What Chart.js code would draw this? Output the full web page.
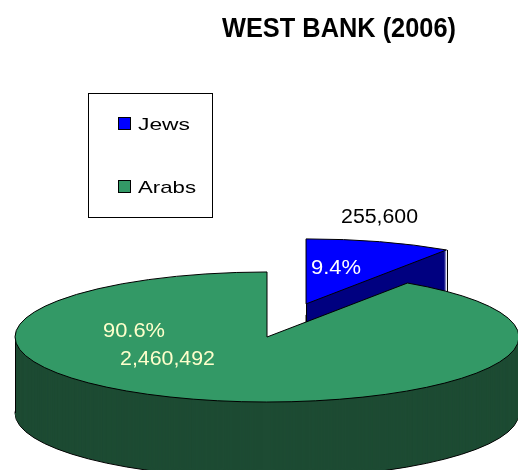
<!DOCTYPE html>
<html><head><meta charset="utf-8">
<style>html,body{margin:0;padding:0;background:#fff}canvas{display:block}</style>
<script src="https://cdn.jsdelivr.net/npm/chart.js@4.4.0/dist/chart.umd.min.js"></script>
</head><body>
<canvas id="c" width="518" height="470"></canvas>
<script>
const chartTitle = 'WEST BANK (2006)';
const categories = ['Jews', 'Arabs'];
const populations = [255600, 2460492];
const topColors = ['#0000FF', '#339966'];
const sideColors = ['#000080', '#1D4B33'];
const labelColors = ['#FFFFFF', '#FFFFCC'];

const TILT = 0.258, DEPTH = 76, EXPLODE = [134, 0];

function fitText(ctx, text, x, y, font, width, color) {
  ctx.save();
  ctx.font = font;
  ctx.fillStyle = color;
  ctx.textBaseline = 'alphabetic';
  ctx.textAlign = 'left';
  const w = ctx.measureText(text).width;
  ctx.translate(x, y);
  ctx.scale(width / w, 1);
  ctx.fillText(text, 0, 0);
  ctx.restore();
}
function explodeVec(el, i) {
  const half = (el.startAngle + el.endAngle) / 2;
  return [Math.cos(half) * EXPLODE[i], Math.sin(half) * EXPLODE[i]];
}
function toScreen(el, i, px, py, dy) {
  const [ox, oy] = explodeVec(el, i);
  return [el.x + ox + px, el.y + dy + (oy + py) * TILT];
}
function slicePath(ctx, el, i, dy) {
  const [ox, oy] = explodeVec(el, i);
  ctx.save();
  ctx.translate(el.x, el.y + dy);
  ctx.scale(1, TILT);
  ctx.translate(ox, oy);
  ctx.beginPath();
  ctx.moveTo(0, 0);
  ctx.arc(0, 0, el.outerRadius, el.startAngle, el.endAngle);
  ctx.closePath();
  ctx.restore();
}

const pie3d = {
  id: 'pie3d',
  beforeDraw(chart) {
    const ctx = chart.ctx;
    ctx.save();
    ctx.fillStyle = '#fff';
    ctx.fillRect(0, 0, chart.width, chart.height);
    ctx.restore();
  },
  beforeDatasetsDraw(chart) {
    const ctx = chart.ctx;
    const meta = chart.getDatasetMeta(0);
    ctx.save();
    ctx.lineWidth = 1;
    ctx.strokeStyle = '#000';
    meta.data.forEach((el, i) => {
      // side (extrusion)
      for (let d = DEPTH; d >= 1; d--) {
        slicePath(ctx, el, i, d);
        ctx.fillStyle = sideColors[i];
        ctx.fill();
        if (d === DEPTH) ctx.stroke();
      }
      // silhouette vertical edges
      const R = el.outerRadius;
      const cands = [[0, 0], [Math.cos(el.startAngle) * R, Math.sin(el.startAngle) * R], [Math.cos(el.endAngle) * R, Math.sin(el.endAngle) * R]];
      [-Math.PI, 0, Math.PI, 2 * Math.PI].forEach(a => {
        if (a > el.startAngle && a < el.endAngle) cands.push([Math.cos(a) * R, Math.sin(a) * R]);
      });
      const pts = cands.map(p => toScreen(el, i, p[0], p[1], 0));
      let minP = pts[0], maxP = pts[0];
      pts.forEach(p => {
        if (p[0] < minP[0] - 0.5 || (Math.abs(p[0] - minP[0]) <= 0.5 && p[1] > minP[1])) minP = p;
        if (p[0] > maxP[0] + 0.5 || (Math.abs(p[0] - maxP[0]) <= 0.5 && p[1] > maxP[1])) maxP = p;
      });
      [minP, maxP].forEach(p => {
        const x = Math.round(p[0]) + 0.5;
        ctx.beginPath();
        ctx.moveTo(x, p[1]);
        ctx.lineTo(x, p[1] + DEPTH);
        ctx.stroke();
      });
      // top face
      slicePath(ctx, el, i, 0);
      ctx.fillStyle = topColors[i];
      ctx.fill();
      ctx.stroke();
    });
    ctx.restore();
    return false;
  },
  afterDraw(chart) {
    const ctx = chart.ctx;
    const meta = chart.getDatasetMeta(0);
    const total = populations.reduce((a, b) => a + b, 0);
    // title
    fitText(ctx, chartTitle, 222, 37, 'bold 27px "Liberation Sans", Arial', 234, '#000');
    // legend box
    ctx.save();
    ctx.strokeStyle = '#000';
    ctx.lineWidth = 1;
    ctx.strokeRect(88.5, 93.5, 124, 124);
    const legendY = [117, 180];
    const legendW = [52, 58];
    categories.forEach((c, i) => {
      ctx.fillStyle = topColors[i];
      ctx.fillRect(118, legendY[i], 13, 13);
      ctx.strokeRect(118.5, legendY[i] + 0.5, 12, 12);
      fitText(ctx, c, 138, legendY[i] + 13, '17px "Liberation Sans", Arial', legendW[i], '#000');
    });
    ctx.restore();
    // data labels
    const font = '21px "Liberation Sans", Arial';
    meta.data.forEach((el, i) => {
      const [cx, cy] = toScreen(el, i, 0, 0, 0);
      const pct = (populations[i] / total * 100).toFixed(1) + '%';
      const val = populations[i].toLocaleString('en-US');
      if (i === 0) {
        fitText(ctx, val, cx + 35, cy - 81, '20px "Liberation Sans", Arial', 77, '#000');
        fitText(ctx, pct, cx + 5, cy - 30, font, 50, labelColors[i]);
      } else {
        fitText(ctx, pct, cx - 164, cy, font, 62, labelColors[i]);
        fitText(ctx, val, cx - 147, cy + 28, font, 95, labelColors[i]);
      }
    });
  }
};

new Chart(document.getElementById('c'), {
  type: 'pie',
  data: {
    labels: categories,
    datasets: [{
      data: populations,
      backgroundColor: topColors,
      borderColor: '#000',
      borderWidth: 1,
      clip: false
    }]
  },
  options: {
    responsive: false,
    devicePixelRatio: 1,
    animation: false,
    events: [],
    radius: 252,
    layout: { padding: { left: 16, right: 0, top: 204, bottom: 0 } },
    plugins: { legend: { display: false }, tooltip: { enabled: false }, title: { display: false } }
  },
  plugins: [pie3d]
});
</script>
</body></html>
